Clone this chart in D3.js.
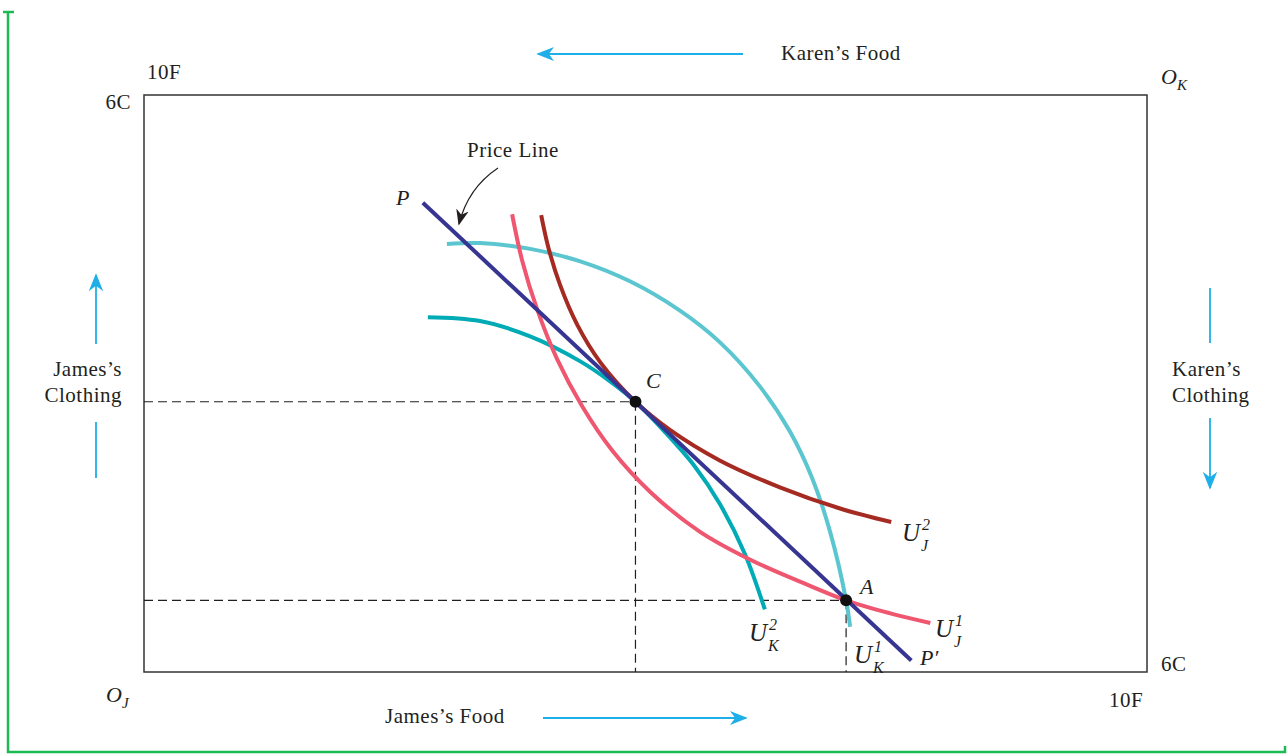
<!DOCTYPE html>
<html>
<head>
<meta charset="utf-8">
<script src="https://cdn.jsdelivr.net/npm/d3@7"></script>
<style>
  body { margin: 0; background: #fff; }
  svg text { font-family: 'Liberation Serif', 'DejaVu Serif', serif; fill: #231f20; }
</style>
</head>
<body>
<div id="chart"></div>
<script>
// Edgeworth box: food 0..10 across, clothing 0..6 up (James origin bottom-left)
const foodMax = 10;
const clothMax = 6;

const priceLine = [[2.78, 4.88], [7.65, 0.12]];
const pointC = [4.9, 2.81];
const pointA = [7.0, 0.745];

const uJ1 = [[3.67, 4.76], [3.77, 4.28], [3.92, 3.77], [4.12, 3.25], [4.37, 2.76], [4.67, 2.30],
  [5.05, 1.87], [5.54, 1.46], [6.04, 1.17], [6.54, 0.94], [7.0, 0.745], [7.44, 0.61], [7.84, 0.51]];
const uJ2 = [[3.96, 4.75], [4.03, 4.42], [4.15, 4.02], [4.32, 3.61], [4.55, 3.22], [4.9, 2.81],
  [5.24, 2.52], [5.74, 2.20], [6.34, 1.92], [6.94, 1.70], [7.45, 1.56]];
const uK2 = [[2.83, 3.69], [3.35, 3.65], [3.85, 3.49], [4.35, 3.23], [4.65, 3.02], [4.9, 2.81],
  [5.19, 2.50], [5.49, 2.14], [5.74, 1.75], [5.99, 1.23], [6.19, 0.65]];
const uK1 = [[3.02, 4.45], [3.35, 4.46], [3.85, 4.40], [4.35, 4.27], [4.85, 4.06], [5.34, 3.76],
  [5.74, 3.43], [6.14, 2.97], [6.44, 2.50], [6.66, 2.02], [6.84, 1.46], [7.0, 0.745], [7.04, 0.47]];

const width = 1288;
const height = 756;
const box = { left: 144, right: 1147, top: 95, bottom: 672 };

const x = d3.scaleLinear().domain([0, foodMax]).range([box.left, box.right]);
const y = d3.scaleLinear().domain([0, clothMax]).range([box.bottom, box.top]);

const svg = d3.select('#chart').append('svg')
  .attr('width', width)
  .attr('height', height);

const defs = svg.append('defs');
const marker = (id, color, size) => {
  defs.append('marker')
    .attr('id', id)
    .attr('viewBox', '0 0 10 10')
    .attr('refX', 9).attr('refY', 5)
    .attr('markerWidth', size).attr('markerHeight', size)
    .attr('markerUnits', 'userSpaceOnUse')
    .attr('orient', 'auto')
    .append('path')
    .attr('d', 'M0,1 L10,5 L0,9 L3,5 Z')
    .attr('fill', color);
};
marker('blueHead', '#1eaee8', 18);
marker('blackHead', '#231f20', 16);

// green frame
const green = '#1db954';
svg.append('path')
  .attr('d', 'M3,12 H14 M8,12 V752 H1285 V746')
  .attr('fill', 'none').attr('stroke', green).attr('stroke-width', 2.5);

// box
svg.append('rect')
  .attr('x', box.left).attr('y', box.top)
  .attr('width', box.right - box.left).attr('height', box.bottom - box.top)
  .attr('fill', 'none').attr('stroke', '#333').attr('stroke-width', 1.5);

// dashed guides
const dashes = svg.append('g').attr('stroke', '#231f20').attr('stroke-width', 1.2)
  .attr('stroke-dasharray', '9,5').attr('fill', 'none');
[pointC, pointA].forEach(p => {
  dashes.append('line').attr('x1', x(0)).attr('x2', x(p[0])).attr('y1', y(p[1])).attr('y2', y(p[1]));
  dashes.append('line').attr('x1', x(p[0])).attr('x2', x(p[0])).attr('y1', y(p[1])).attr('y2', y(0));
});

const line = d3.line().x(d => x(d[0])).y(d => y(d[1])).curve(d3.curveCatmullRom.alpha(0.5));

const curves = [
  { data: uK1, color: '#5bc6d0' },
  { data: uK2, color: '#00abb5' },
  { data: uJ1, color: '#ef5670' },
  { data: uJ2, color: '#a52b22' },
  { data: priceLine, color: '#363591' },
];
curves.forEach(c => {
  svg.append('path')
    .attr('d', line(c.data))
    .attr('fill', 'none')
    .attr('stroke', c.color)
    .attr('stroke-width', 4);
});

// equilibrium points
[pointC, pointA].forEach(p => {
  svg.append('circle').attr('cx', x(p[0])).attr('cy', y(p[1])).attr('r', 6).attr('fill', '#111');
});

// text helpers
const text = (tx, ty, str, opts = {}) => svg.append('text')
  .attr('x', tx).attr('y', ty)
  .attr('font-size', opts.size || 21)
  .attr('letter-spacing', opts.italic ? 0 : 0.5)
  .attr('font-style', opts.italic ? 'italic' : 'normal')
  .attr('text-anchor', opts.anchor || 'start')
  .text(str);

const uLabel = (tx, ty, sup, sub) => {
  const t = svg.append('text').attr('x', tx).attr('y', ty).attr('font-size', 25).attr('font-style', 'italic');
  t.append('tspan').text('U');
  t.append('tspan').attr('font-size', 16).attr('dx', 2).attr('dy', -11).text(sup);
  t.append('tspan').attr('font-size', 16).attr('dx', -9).attr('dy', 21).text(sub);
};

const originLabel = (tx, ty, sub) => {
  const t = svg.append('text').attr('x', tx).attr('y', ty).attr('font-size', 22).attr('font-style', 'italic');
  t.append('tspan').text('O');
  t.append('tspan').attr('font-size', 15).attr('dy', 6).text(sub);
};

text(147, 79, '10F');
text(131, 109, '6C', { anchor: 'end' });
text(1109, 707, '10F');
text(1161, 671, '6C');
originLabel(1161, 84, 'K');
originLabel(106, 702, 'J');

text(781, 60, 'Karen’s Food');
text(385, 723, 'James’s Food');
text(122, 376, 'James’s', { anchor: 'end' });
text(122, 402, 'Clothing', { anchor: 'end' });
text(1172, 376, 'Karen’s');
text(1172, 402, 'Clothing');

// direction arrows
const arrow = (x1, y1, x2, y2, head) => {
  const l = svg.append('line').attr('x1', x1).attr('y1', y1).attr('x2', x2).attr('y2', y2)
    .attr('stroke', '#1eaee8').attr('stroke-width', 1.8);
  if (head) l.attr('marker-end', 'url(#blueHead)');
};
arrow(743, 54, 538, 54, true);
arrow(543, 718, 746, 718, true);
arrow(96, 478, 96, 422, false);
arrow(96, 344, 96, 275, true);
arrow(1210, 288, 1210, 343, false);
arrow(1210, 418, 1210, 488, true);

// curve labels
text(396, 205, 'P', { italic: true, size: 22 });
text(920, 665, 'P′', { italic: true, size: 22 });
text(646, 388, 'C', { italic: true, size: 22 });
text(860, 594, 'A', { italic: true, size: 22 });
uLabel(902, 541, '2', 'J');
uLabel(935, 637, '1', 'J');
uLabel(749, 641, '2', 'K');
uLabel(854, 663, '1', 'K');

// price line callout
text(513, 157, 'Price Line', { anchor: 'middle' });
svg.append('path')
  .attr('d', 'M498,168 Q468,188 459,224')
  .attr('fill', 'none').attr('stroke', '#231f20').attr('stroke-width', 1.2)
  .attr('marker-end', 'url(#blackHead)');
</script>
</body>
</html>
